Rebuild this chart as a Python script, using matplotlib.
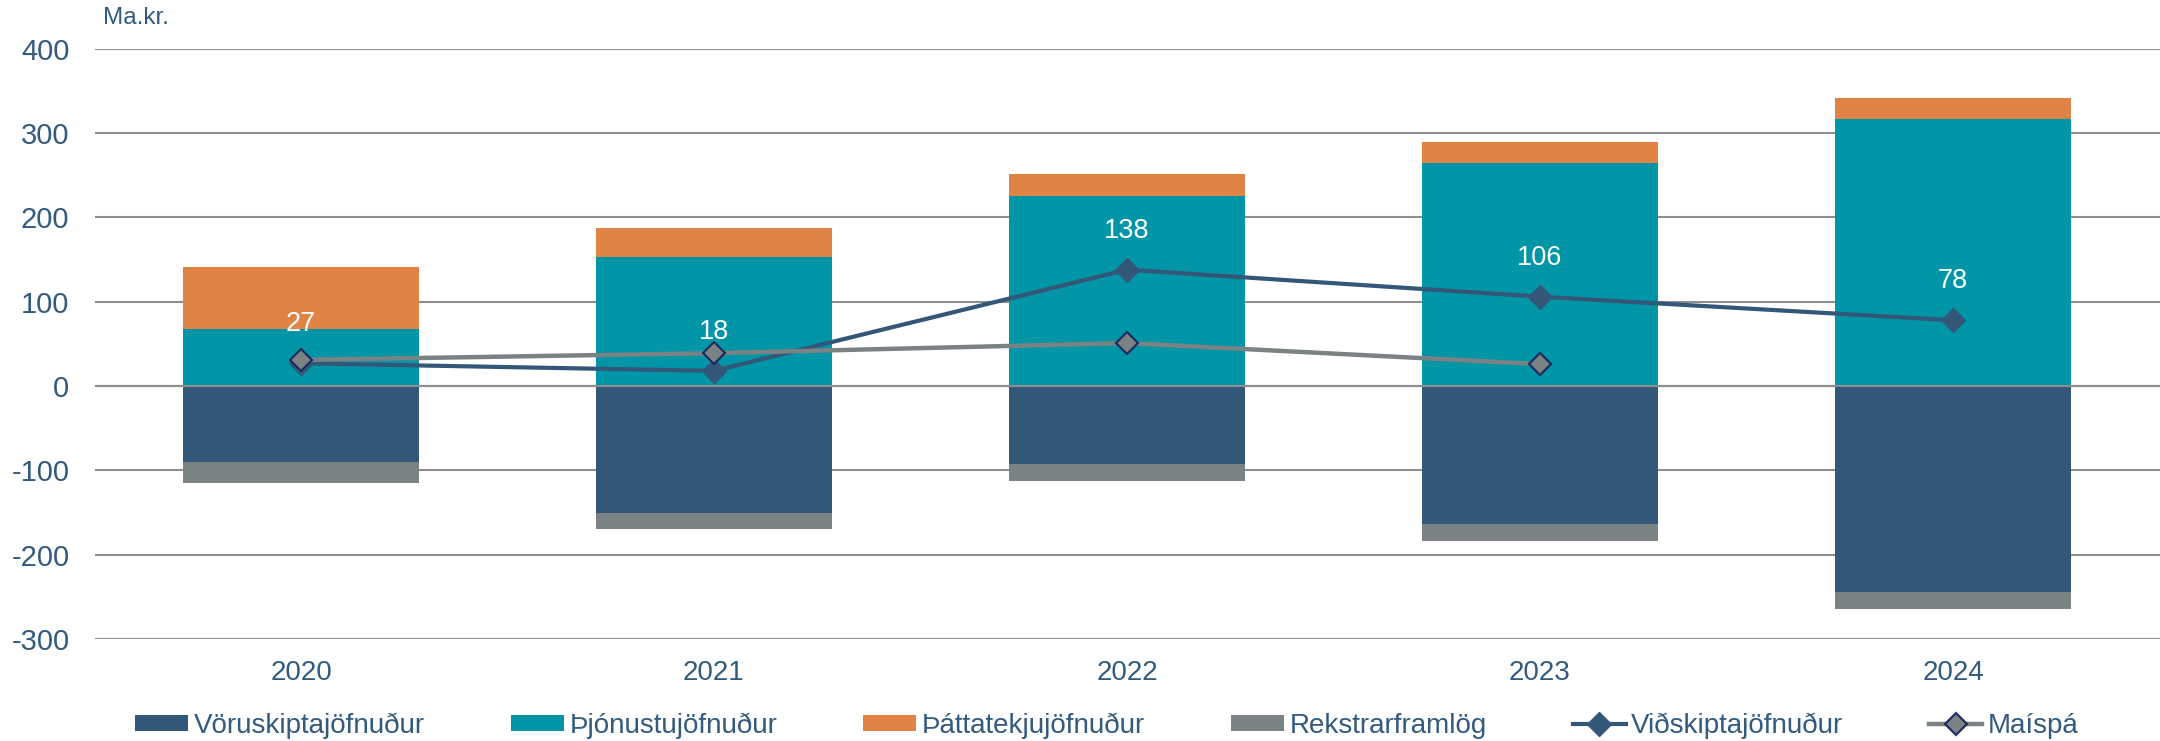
import matplotlib.pyplot as plt
import numpy as np

plt.rcParams['font.family'] = ['Liberation Sans', 'DejaVu Sans']
plt.rcParams['axes.unicode_minus'] = False

# Data (ma.kr.)
years = ['2020', '2021', '2022', '2023', '2024']
voruskipti = [-90, -150, -93, -164, -244]
thjonusta = [68, 153, 226, 264, 317]
thattatekjur = [73, 35, 25, 26, 25]
rekstrarframlog = [-25, -20, -20, -20, -20]
vidskipti = [27, 18, 138, 106, 78]
maispa = [31, 39, 51, 26]

# Colors
c_navy = '#335778'
c_teal = '#0096A8'
c_orange = '#DF8444'
c_gray = '#7A8284'
c_text = '#335A7F'
c_grid = '#8E8E8E'

bar_width = 0.57

x = np.arange(len(years))

fig = plt.figure(figsize=(21.6, 7.41), dpi=100)
ax = fig.add_axes([94.5 / 2160, 1 - 639 / 741, 2065 / 2160, (639 - 48.8) / 741])

b1 = ax.bar(x, voruskipti, width=bar_width, color=c_navy, label='Vöruskiptajöfnuður', zorder=2)
b2 = ax.bar(x, thjonusta, width=bar_width, color=c_teal, label='Þjónustujöfnuður', zorder=2)
b3 = ax.bar(x, thattatekjur, width=bar_width, bottom=thjonusta, color=c_orange,
            label='Þáttatekjujöfnuður', zorder=2)
b4 = ax.bar(x, rekstrarframlog, width=bar_width, bottom=voruskipti, color=c_gray,
            label='Rekstrarframlög', zorder=2)

# zero line sits on top of the bars
ax.axhline(0, color=c_grid, linewidth=1.5, zorder=3)

l1, = ax.plot(x, vidskipti, color=c_navy, linewidth=3, marker='D', markersize=12.5,
              label='Viðskiptajöfnuður', zorder=4)
l2, = ax.plot(x[:len(maispa)], maispa, color=c_gray, linewidth=3.2, marker='D', markersize=11,
              markerfacecolor=c_gray, markeredgecolor='#1A2A5E', markeredgewidth=1.5,
              label='Maíspá', zorder=5)

for xi, v in zip(x, vidskipti):
    ax.annotate(str(v), (xi, v), xytext=(0, 28), textcoords='offset points',
                ha='center', va='center', color='white', fontsize=19.5, zorder=6)

ax.set_xlim(-0.5, len(years) - 0.5)
ax.set_ylim(-300, 400)
ax.set_yticks(np.arange(-300, 401, 100))
ax.set_xticks(x, years)
ax.yaxis.grid(True, color=c_grid, linewidth=1.5, zorder=0)
ax.set_axisbelow(True)
for s in ax.spines.values():
    s.set_visible(False)
ax.tick_params(axis='y', length=0, pad=18, labelsize=21, labelcolor=c_text)
ax.tick_params(axis='x', length=0, pad=15, labelsize=20, labelcolor=c_text)

fig.text(103 / 2160, 1 - 18 / 741, 'Ma.kr.', fontsize=17.5, color=c_text, va='center', ha='left')

handles = [b1, b2, b3, b4, l1, l2]
leg = fig.legend(handles=handles, labels=[h.get_label() for h in handles],
                 loc='center', bbox_to_anchor=(1107 / 2160, 1 - 726 / 741), ncols=6,
                 frameon=False, fontsize=20, handlelength=1.9, handleheight=0.5,
                 handletextpad=0.2, columnspacing=3.1)
for t in leg.get_texts():
    t.set_color(c_text)

plt.savefig('out.png')
